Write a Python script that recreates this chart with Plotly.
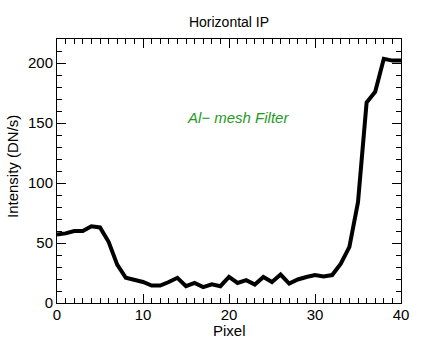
import plotly.graph_objects as go

pixel = list(range(0, 41))
intensity = [57, 58, 60, 60, 64, 63, 51, 32, 21, 19, 17.5, 14.5, 14.5, 17.5, 21, 14, 16.7, 13.3, 15.6, 14,
             21.7, 16.7, 19, 15.4, 21.7, 17.5, 23.7, 16.2, 19.6, 21.7, 23.3, 22.2, 23.3, 32.8, 46.7, 84,
             167, 176, 203.5, 202, 202]

title_text = "Horizontal IP"
x_title = "Pixel"
y_title = "Intensity (DN/s)"
label_text = "Al\u2212 mesh Filter"

font_family = "Liberation Sans, Arial, Helvetica, sans-serif"
title_font = dict(size=15, color="black", family=font_family)

fig = go.Figure()
fig.add_trace(go.Scatter(x=pixel, y=intensity, mode="lines",
                         line=dict(color="black", width=4), showlegend=False))

fig.add_annotation(x=21.0, y=155, text="<i>" + label_text + "</i>", showarrow=False,
                   font=dict(color="#1f9a1f", size=15, family=font_family))

# axis titles as paper annotations for exact placement
plot_w, plot_h = 344, 264
fig.add_annotation(xref="paper", yref="paper", x=0.5, y=-27 / plot_h, text=x_title,
                   showarrow=False, xanchor="center", yanchor="middle", font=title_font)
fig.add_annotation(xref="paper", yref="paper", x=-45 / plot_w, y=0.515, text=y_title,
                   showarrow=False, xanchor="center", yanchor="middle", textangle=-90, font=title_font)

axis_common = dict(showline=True, linecolor="black", linewidth=1, mirror="ticks",
                   ticks="inside", tickcolor="black", showgrid=False, zeroline=False,
                   automargin=False,
                   tickfont=dict(size=15, color="black", family=font_family))

fig.update_xaxes(range=[0, 40], dtick=10, ticklen=9, ticklabelstandoff=-2,
                 minor=dict(dtick=1, ticks="inside", ticklen=5, tickcolor="black", showgrid=False),
                 **axis_common)
fig.update_yaxes(range=[0, 220], dtick=50, ticklen=9,
                 minor=dict(dtick=10, ticks="inside", ticklen=5, tickcolor="black", showgrid=False),
                 **axis_common)

fig.update_layout(
    template="none",
    width=436, height=349,
    margin=dict(l=57, r=35, t=39, b=46),
    paper_bgcolor="white", plot_bgcolor="white",
    title=dict(text=title_text, x=0.5, xanchor="center", y=1 - 22 / 349, yanchor="middle",
               xref="paper", font=dict(size=14, color="black", family=font_family)),
)

# remove the default 8px page margin so the figure fills the window exactly
fig.write_html("out.html", config={"displayModeBar": False},
               post_script="document.body.style.margin='0';")
